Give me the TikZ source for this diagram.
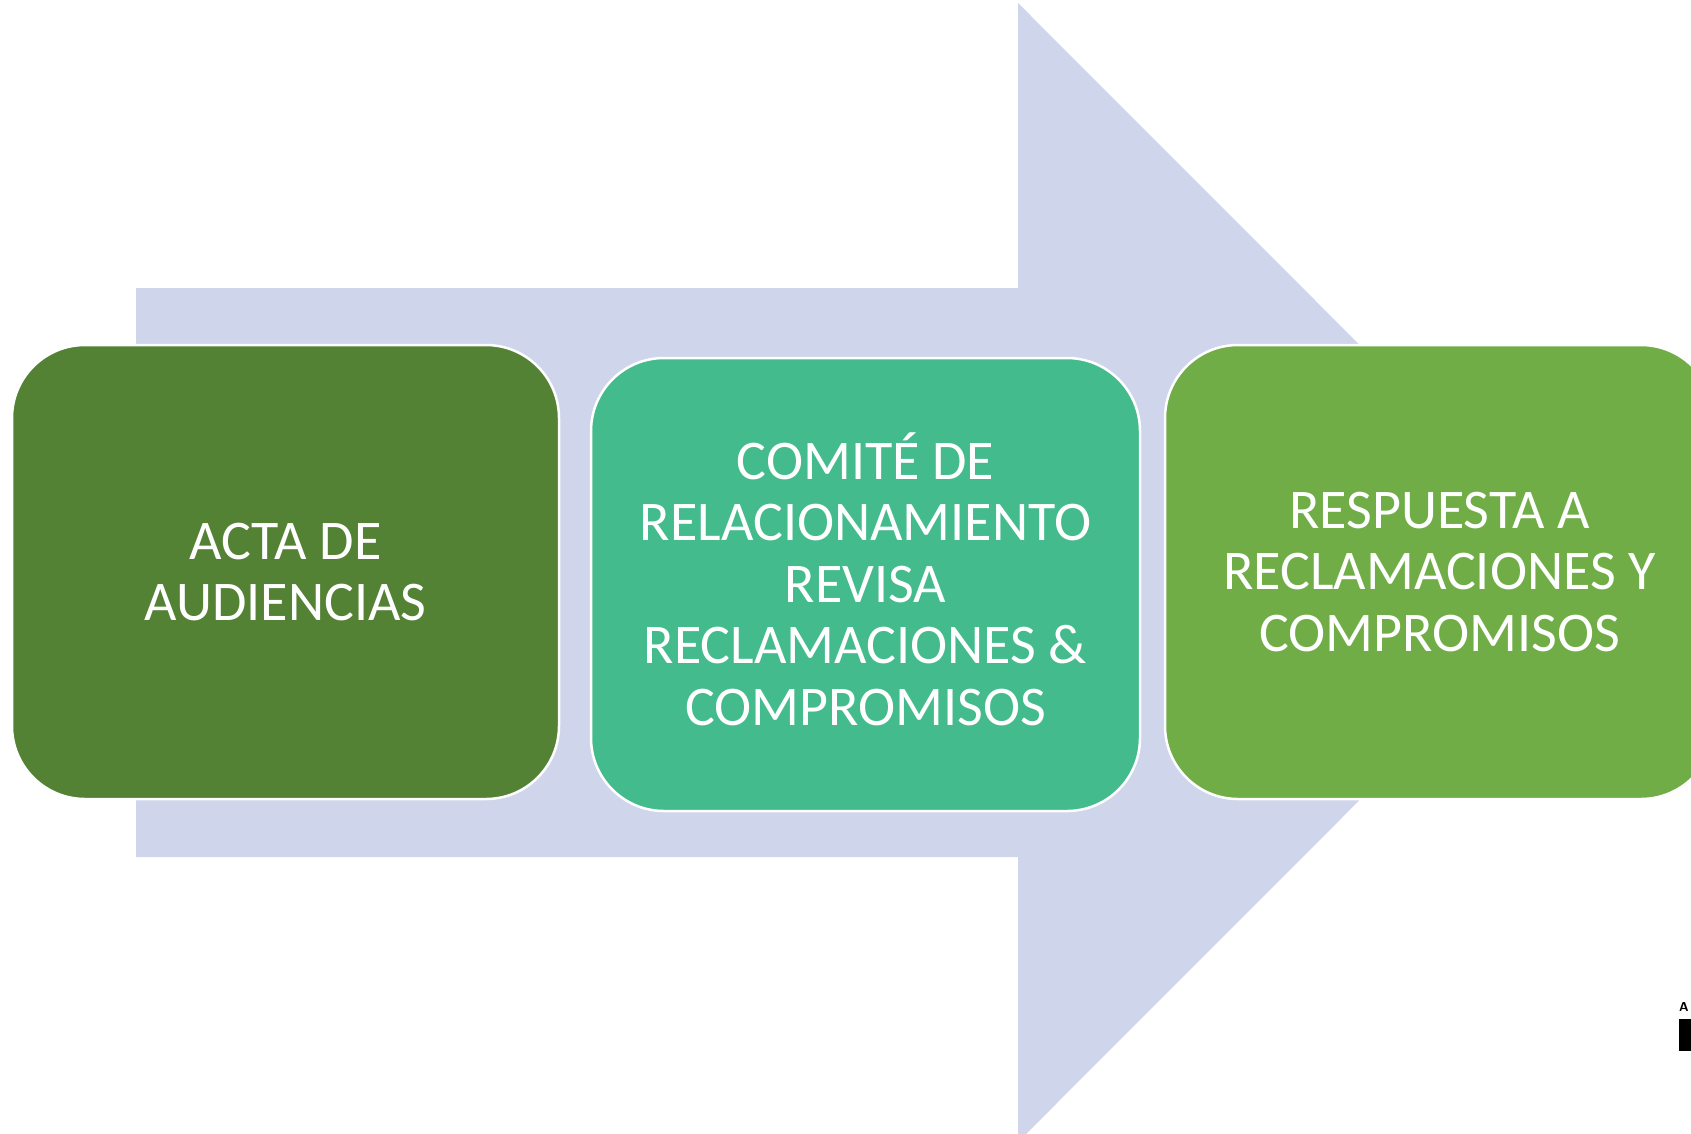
\documentclass[tikz,border=0pt]{standalone}
\usepackage{fontspec}
\setmainfont{Carlito}
\definecolor{arrowbg}{HTML}{CFD5EA}
\definecolor{gdark}{HTML}{548235}
\definecolor{gteal}{HTML}{44BB8D}
\definecolor{glight}{HTML}{70AD47}
\tikzset{
  stepbox/.style={rounded corners=73pt, draw=white, line width=2.5pt,
    inner sep=0pt},
  steptext/.style={text=white, align=center, inner sep=0pt,
    font=\fontsize{56}{61.5}\selectfont},
}
\begin{document}
\begin{tikzpicture}[x=1pt,y=-1pt]
\useasboundingbox (0,0) rectangle (1691,1133);
\clip (0,0) rectangle (1691,1133);
\fill[white] (0,0) rectangle (1691,1133);
% big arrow
\fill[arrowbg] (136,288) -- (1018,288) -- (1018,3) -- (1587,572.5) -- (1018,1142) -- (1018,857) -- (136,857) -- cycle;
% boxes
\node[stepbox, fill=gdark, minimum width=547pt, minimum height=454pt] (b1) at (285.5,572) {};
\node[stepbox, fill=gteal, minimum width=549pt, minimum height=453pt] (b2) at (865.5,584.5) {};
\node[stepbox, fill=glight, minimum width=549pt, minimum height=454pt] (b3) at (1439.5,572) {};
% texts
\node[steptext] (t1) at (285.5,572) {ACTA DE\\AUDIENCIAS};
\node[steptext] (t2) at (865.5,579) {COMITÉ DE\\RELACIONAMIENTO\\REVISA\\RECLAMACIONES \&\\COMPROMISOS};
\node[steptext] (t3) at (1439.5,572) {RESPUESTA A\\RECLAMACIONES Y\\COMPROMISOS};
% cropped logo remnant at right edge
\node[anchor=south west, inner sep=0pt, font=\sffamily\bfseries\fontsize{13}{13}\selectfont] (logoA) at (1679,1012) {A};
\fill[black] (1679,1019) rectangle (1691,1051);
\end{tikzpicture}
\end{document}
